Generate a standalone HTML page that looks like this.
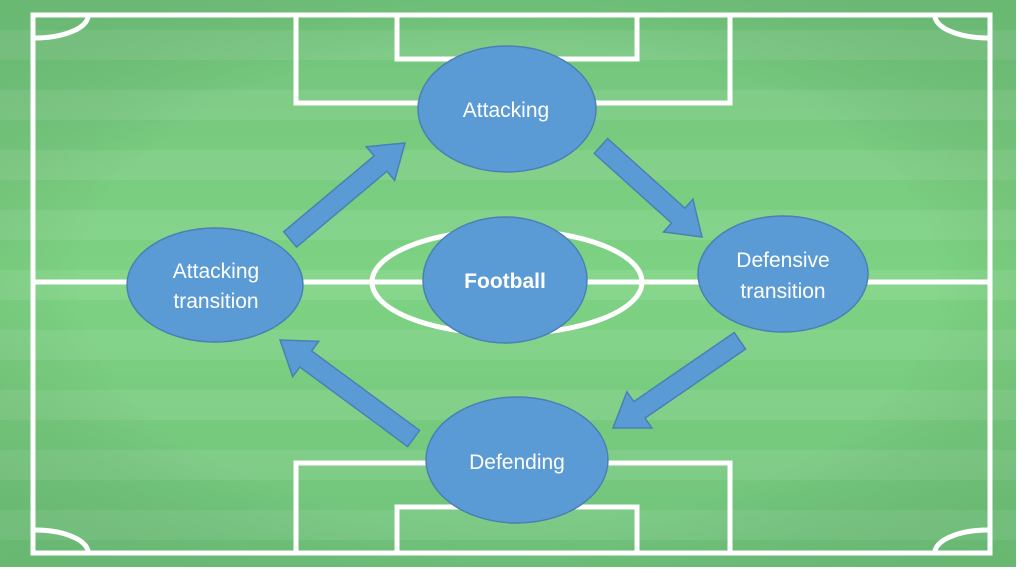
<!DOCTYPE html>
<html><head><meta charset="utf-8"><style>html,body{margin:0;padding:0;background:#fff}svg{display:block}</style></head>
<body>
<svg width="1024" height="576" viewBox="0 0 1024 576" xmlns="http://www.w3.org/2000/svg">
<defs>
<linearGradient id="g" x1="0" y1="0" x2="0" y2="1">
<stop offset="0" stop-color="#72c47c"/><stop offset="0.5" stop-color="#7dd282"/><stop offset="1" stop-color="#70c37b"/>
</linearGradient>
<pattern id="st" width="1024" height="60" patternUnits="userSpaceOnUse">
<rect y="30" width="1024" height="30" fill="#fff" opacity="0.08"/>
</pattern>
<radialGradient id="vg" cx="0.5" cy="0.5" r="0.7">
<stop offset="0.6" stop-color="#000" stop-opacity="0"/><stop offset="1" stop-color="#3a7a40" stop-opacity="0.15"/>
</radialGradient>
</defs>
<rect x="0" y="0" width="1016" height="567" fill="url(#g)"/>
<rect x="0" y="0" width="1016" height="567" fill="url(#st)"/>
<rect x="0" y="0" width="1016" height="567" fill="url(#vg)"/>
<g fill="none" stroke="#fff" stroke-width="5">
<rect x="33" y="15" width="957" height="538"/>
<line x1="33" y1="282" x2="990" y2="282"/>
<ellipse cx="507" cy="282" rx="135" ry="52"/>
<polyline points="296,15 296,103 730,103 730,15"/>
<polyline points="397,15 397,59 637,59 637,15"/>
<polyline points="296,553 296,463 730,463 730,553"/>
<polyline points="397,553 397,507 637,507 637,553"/>
<path d="M35,38 A53,23 0 0 0 88,17"/>
<path d="M988,38 A53,23 0 0 1 935,17"/>
<path d="M35,530 A53,23 0 0 1 88,551"/>
<path d="M988,530 A53,23 0 0 0 935,551"/>
</g>
<g fill="#5b9bd5" stroke="#4a80b4" stroke-width="1.5">
<g transform="translate(405,143) rotate(-40)"><polygon points="0,0 -32,-22 -32,-10 -150,-10 -150,10 -32,10 -32,22"/></g>
<g transform="translate(702,237) rotate(42)"><polygon points="0,0 -32,-22 -32,-10 -136,-10 -136,10 -32,10 -32,22"/></g>
<g transform="translate(613,428) rotate(145.5)"><polygon points="0,0 -32,-22 -32,-10 -154,-10 -154,10 -32,10 -32,22"/></g>
<g transform="translate(280,340) rotate(216.4)"><polygon points="0,0 -32,-22 -32,-10 -166,-10 -166,10 -32,10 -32,22"/></g>
<ellipse cx="507" cy="109" rx="89" ry="63"/>
<ellipse cx="505" cy="280" rx="82" ry="63"/>
<ellipse cx="215" cy="285" rx="88" ry="57"/>
<ellipse cx="783" cy="274" rx="85" ry="58"/>
<ellipse cx="517" cy="460" rx="91" ry="63"/>
</g>
<g fill="#fff" font-family="Liberation Sans, sans-serif" font-size="21" text-anchor="middle">
<text x="506" y="117">Attacking</text>
<text x="505" y="288" font-weight="bold">Football</text>
<text x="216" y="278">Attacking</text>
<text x="216" y="308">transition</text>
<text x="783" y="267">Defensive</text>
<text x="783" y="298">transition</text>
<text x="517" y="469">Defending</text>
</g>
</svg>
</body></html>
